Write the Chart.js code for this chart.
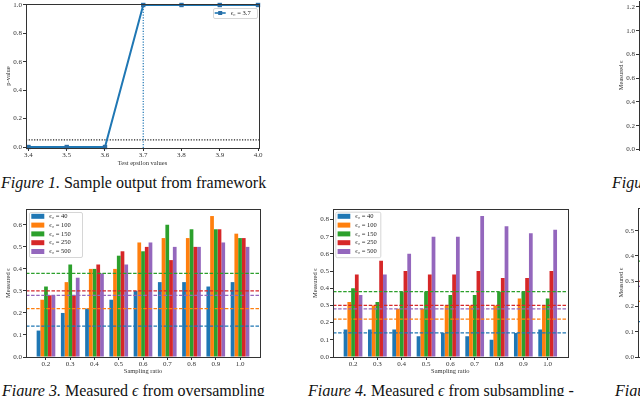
<!DOCTYPE html>
<html><head><meta charset="utf-8">
<script src="https://cdn.jsdelivr.net/npm/chart.js@4.4.1/dist/chart.umd.min.js"></script>
<style>
html,body{margin:0;padding:0;background:#fff;}
#page{position:relative;width:640px;height:396px;overflow:hidden;background:#fff;}
canvas{position:absolute;}
.cap{position:absolute;font-family:"Liberation Serif","Times New Roman",serif;font-size:16px;line-height:16px;white-space:nowrap;color:#111;}
</style></head><body>
<div id="page">
<canvas id="c1" width="270" height="172" style="left:0;top:0"></canvas>
<canvas id="c2" width="150" height="172" style="left:590px;top:0"></canvas>
<canvas id="c3" width="280" height="178" style="left:0;top:200px"></canvas>
<canvas id="c4" width="290" height="178" style="left:300px;top:200px"></canvas>
<canvas id="c5" width="150" height="178" style="left:590px;top:200px"></canvas>
<div class="cap" style="left:1px;top:174.6px"><i>Figure 1.</i> Sample output from framework</div>
<div class="cap" style="left:612px;top:174.6px"><i>Figure 2.</i> Measured <i>ϵ</i></div>
<div class="cap" style="left:2px;top:383px"><i>Figure 3.</i> Measured <i>ϵ</i> from oversampling</div>
<div class="cap" style="left:308px;top:383px"><i>Figure 4.</i> Measured <i>ϵ</i> from subsampling -</div>
<div class="cap" style="left:615px;top:383px"><i>Figure 5.</i> Measured <i>ϵ</i></div>
</div>
<script>
// ---------- data ----------
// Figure 1
const testEpsilon = [3.4, 3.5, 3.6, 3.7, 3.8, 3.9, 4.0];
const pValues     = [0, 0, 0, 1, 1, 1, 1];
const trueEps0    = 3.7;
const alphaLevel  = 0.05;
const fig1Label   = 'ϵ₀ = 3.7';
const fig1XTicks  = [3.4, 3.5, 3.6, 3.7, 3.8, 3.9, 4.0];
const fig1YTicks  = [0, 0.2, 0.4, 0.6, 0.8, 1.0];

// Figures 3 and 4
const samplingRatios = [0.2, 0.3, 0.4, 0.5, 0.6, 0.7, 0.8, 0.9, 1.0];
const eps0Values     = [40, 100, 150, 250, 500];
const baselineEps    = [0.14, 0.22, 0.38, 0.30, 0.28];

const over40  = [0.12, 0.20, 0.22, 0.26, 0.30, 0.34, 0.34, 0.32, 0.34];
const over100 = [0.26, 0.34, 0.40, 0.40, 0.52, 0.54, 0.54, 0.64, 0.56];
const over150 = [0.32, 0.42, 0.40, 0.46, 0.48, 0.60, 0.58, 0.58, 0.54];
const over250 = [0.28, 0.28, 0.42, 0.48, 0.50, 0.44, 0.50, 0.58, 0.54];
const over500 = [0.28, 0.36, 0.38, 0.42, 0.52, 0.50, 0.50, 0.52, 0.50];

const sub40  = [0.16, 0.16, 0.16, 0.12, 0.14, 0.12, 0.10, 0.14, 0.16];
const sub100 = [0.32, 0.30, 0.28, 0.28, 0.30, 0.30, 0.30, 0.34, 0.30];
const sub150 = [0.40, 0.32, 0.38, 0.38, 0.36, 0.36, 0.38, 0.38, 0.34];
const sub250 = [0.48, 0.56, 0.50, 0.48, 0.48, 0.50, 0.46, 0.46, 0.50];
const sub500 = [0.36, 0.48, 0.60, 0.70, 0.70, 0.82, 0.76, 0.72, 0.74];

const fig3YTicks = [0, 0.1, 0.2, 0.3, 0.4, 0.5, 0.6];
const fig4YTicks = [0, 0.1, 0.2, 0.3, 0.4, 0.5, 0.6, 0.7, 0.8];
const fig2YTicks = [0, 0.2, 0.4, 0.6, 0.8, 1.0, 1.2];
const fig5YTicks = [0, 0.1, 0.2, 0.3, 0.4, 0.5];

// ---------- styling ----------
const SERIF = '"Liberation Serif","Times New Roman",serif';
const AX = '#333', TXT = '#333';
const tab10 = ['#1f77b4', '#ff7f0e', '#2ca02c', '#d62728', '#9467bd'];
const eps0Labels = eps0Values.map(v => 'ϵ₀ = ' + v);

const framePlugin = {
  id: 'frame',
  afterDatasetsDraw(chart) {
    const a = chart.chartArea, c = chart.ctx;
    c.save();
    c.strokeStyle = AX; c.lineWidth = 1;
    const l = Math.round(a.left) + 0.5, t = Math.round(a.top) + 0.5;
    const r = Math.round(a.right) + 0.5, b = Math.round(a.bottom) + 0.5;
    c.strokeRect(l, t, r - l, b - t);
    c.restore();
  }
};
const boxLegend = {
  id: 'boxLegend',
  afterDraw(chart, args, o) {
    if (!o || !o.w) return;
    const ctx = chart.ctx, a = chart.chartArea;
    const items = chart.data.datasets.filter(d => d.legend);
    const left = o.anchor === 'right' ? a.right - o.dx - o.w : a.left + o.dx;
    const top = a.top + o.dy;
    ctx.save();
    ctx.fillStyle = 'rgba(255,255,255,0.85)';
    ctx.strokeStyle = '#cccccc'; ctx.lineWidth = 0.8;
    ctx.beginPath();
    if (ctx.roundRect) ctx.roundRect(left + 0.5, top + 0.5, o.w, o.h, 1.5);
    else ctx.rect(left + 0.5, top + 0.5, o.w, o.h);
    ctx.fill(); ctx.stroke();
    ctx.font = o.size + 'px ' + SERIF;
    ctx.textBaseline = 'middle'; ctx.textAlign = 'left';
    items.forEach((d, i) => {
      const cy = top + o.first + i * o.rowH;
      if (o.kind === 'line') {
        ctx.strokeStyle = d.borderColor; ctx.lineWidth = 1.6;
        ctx.beginPath(); ctx.moveTo(left + o.hx, cy); ctx.lineTo(left + o.hx + o.hw, cy); ctx.stroke();
        const mx = left + o.hx + o.hw / 2, s = o.ms;
        ctx.fillStyle = d.pointBackgroundColor; ctx.fillRect(mx - s / 2, cy - s / 2, s, s);
      } else {
        ctx.fillStyle = d.backgroundColor;
        ctx.fillRect(left + o.hx, cy - o.hh / 2, o.hw, o.hh);
      }
      ctx.fillStyle = '#222';
      ctx.fillText(d.label, left + o.tx, cy);
    });
    ctx.restore();
  }
};
Chart.register(framePlugin, boxLegend);

const fmt1 = v => Number(v).toFixed(1);
function axisY(o) {
  return {
    type: 'linear', position: 'left', min: o.min, max: o.max,
    afterBuildTicks: s => { s.ticks = o.ticks.map(v => ({ value: v })); },
    afterFit: s => { s.width = o.width; s.paddingTop = 0; s.paddingBottom = 0; },
    grid: { drawOnChartArea: false, drawTicks: true, tickLength: 3, color: AX, lineWidth: 1, offset: false },
    border: { display: false },
    ticks: { padding: 1, color: TXT, font: { family: SERIF, size: 7 }, callback: fmt1, autoSkip: false },
    title: { display: true, text: o.title, color: TXT, font: { family: SERIF, size: 6.5 }, padding: { top: o.titlePad, bottom: 0 } }
  };
}
function axisX(o) {
  if (o.hidden) return { type: 'linear', display: false, min: o.min, max: o.max, offset: false };
  return {
    type: 'linear', position: 'bottom', min: o.min, max: o.max, offset: false,
    afterBuildTicks: s => { s.ticks = o.ticks.map(v => ({ value: v })); },
    afterFit: s => { s.height = o.height; s.paddingLeft = 0; s.paddingRight = 0; },
    grid: { drawOnChartArea: false, drawTicks: true, tickLength: 3, color: AX, lineWidth: 1, offset: false },
    border: { display: false },
    ticks: { padding: 0, maxRotation: 0, minRotation: 0, autoSkip: false, color: TXT, font: { family: SERIF, size: 7 }, callback: fmt1 },
    title: { display: true, text: o.title, color: TXT, font: { family: SERIF, size: 6.5 }, padding: { top: 0, bottom: o.titlePad } }
  };
}
function baseOptions(padding, scales, legend) {
  return {
    responsive: false, animation: false, events: [],
    layout: { padding },
    scales,
    plugins: { legend: { display: false }, tooltip: { enabled: false }, boxLegend: legend || {} }
  };
}

// ---------- Figure 1 ----------
const f1X = [3.3935, 4.0026], f1Y = [-0.007, 1.007];
new Chart(document.getElementById('c1'), {
  type: 'line',
  data: {
    datasets: [
      { label: fig1Label, legend: true, data: testEpsilon.map((x, i) => ({ x, y: pValues[i] })),
        borderColor: tab10[0], backgroundColor: tab10[0], borderWidth: 2, tension: 0,
        pointStyle: 'rect', pointRadius: 3.1, pointBorderWidth: 0, pointBackgroundColor: '#2a6ea6', clip: false, order: 0 },
      { data: [{ x: trueEps0, y: f1Y[0] }, { x: trueEps0, y: f1Y[1] }],
        borderColor: tab10[0], borderDash: [1.2, 1.5], borderWidth: 1.2, pointRadius: 0, order: 1 },
      { data: [{ x: f1X[0], y: alphaLevel }, { x: f1X[1], y: alphaLevel }],
        borderColor: '#222', borderDash: [1.2, 1.5], borderWidth: 1.2, pointRadius: 0, order: 1 }
    ]
  },
  options: baseOptions({ left: 0, top: 2, right: 11, bottom: 0 }, {
    x: axisX({ min: f1X[0], max: f1X[1], ticks: fig1XTicks, height: 24, title: 'Test epsilon values', titlePad: 4.8 }),
    y: axisY({ min: f1Y[0], max: f1Y[1], ticks: fig1YTicks, width: 26, title: 'p-value', titlePad: 4.4 })
  }, { anchor: 'right', dx: 2, dy: 4, w: 44, h: 10, first: 5, rowH: 9, kind: 'line', hx: 1.7, hw: 11, ms: 4, tx: 17.7, size: 6.5 })
});

// ---------- Figures 3 & 4 ----------
function barRange() {
  const step = samplingRatios[1] - samplingRatios[0];
  const pad = step * (0.77 / 2 + 0.05 * (samplingRatios.length - 1 + 0.77));
  return [samplingRatios[0] - pad, samplingRatios[samplingRatios.length - 1] + pad];
}
function barChart(id, series, yTicks, yWidth, yTitlePad, padding, legend) {
  const xr = barRange();
  const ymax = Math.max(...series.flat()) * 1.05;
  const bars = series.map((vals, k) => ({
    type: 'bar', label: eps0Labels[k], legend: true,
    data: samplingRatios.map((x, i) => ({ x, y: vals[i] })),
    backgroundColor: tab10[k], borderWidth: 0, categoryPercentage: 0.77, barPercentage: 1, order: 1
  }));
  const lines = baselineEps.map((b, k) => ({
    type: 'line', data: [{ x: xr[0], y: b }, { x: xr[1], y: b }],
    borderColor: tab10[k], borderDash: [3.5, 1.6], borderWidth: 1.2, pointRadius: 0, order: 0
  }));
  new Chart(document.getElementById(id), {
    type: 'bar',
    data: { datasets: bars.concat(lines) },
    options: baseOptions(padding, {
      x: axisX({ min: xr[0], max: xr[1], ticks: samplingRatios, height: 21, title: 'Sampling ratio', titlePad: 2.4 }),
      y: axisY({ min: 0, max: ymax, ticks: yTicks, width: yWidth, title: 'Measured ϵ', titlePad: yTitlePad })
    }, legend)
  });
}
barChart('c3', [over40, over100, over150, over250, over500], fig3YTicks, 26, 4.4,
  { left: 0, top: 9, right: 20, bottom: 0 },
  { anchor: 'left', dx: 3, dy: 3, w: 53, h: 45, first: 4.3, rowH: 8.8, kind: 'patch', hx: 2.3, hw: 13, hh: 5, tx: 20.3, size: 6.5 });
barChart('c4', [sub40, sub100, sub150, sub250, sub500], fig4YTicks, 33, 11.1,
  { left: 0, top: 9, right: 22.3, bottom: 0 },
  { anchor: 'left', dx: 2.3, dy: 2.7, w: 45, h: 45.5, first: 4.6, rowH: 8.8, kind: 'patch', hx: 2.3, hw: 12.7, hh: 5, tx: 20, size: 6.5 });

// ---------- partially visible figures at right ----------
new Chart(document.getElementById('c2'), {
  type: 'line', data: { datasets: [] },
  options: baseOptions({ left: 0, top: 1, right: 0, bottom: 22.5 }, {
    x: axisX({ hidden: true, min: 0, max: 1 }),
    y: axisY({ min: 0, max: 1.25, ticks: fig2YTicks, width: 49, title: 'Measured ϵ', titlePad: 27.1 })
  })
});
new Chart(document.getElementById('c5'), {
  type: 'line',
  data: { datasets: baselineEps.map((b, k) => ({ data: [{ x: 0, y: b }, { x: 1, y: b }],
    borderColor: tab10[k], borderDash: [3.5, 1.6], borderWidth: 1.2, pointRadius: 0 })) },
  options: baseOptions({ left: 0, top: 8, right: 0, bottom: 21 }, {
    x: axisX({ hidden: true, min: 0, max: 1 }),
    y: axisY({ min: 0, max: 0.59, ticks: fig5YTicks, width: 48, title: 'Measured ϵ', titlePad: 27.1 })
  })
});
</script>
</body></html>
